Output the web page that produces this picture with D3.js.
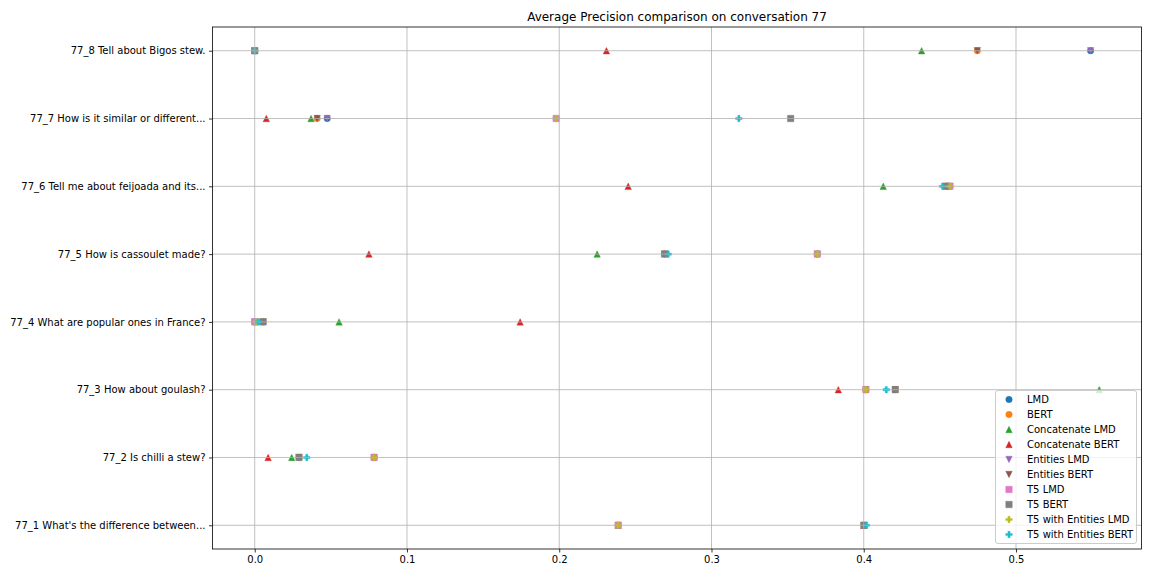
<!DOCTYPE html>
<html><head><meta charset="utf-8">
<script src="https://cdn.jsdelivr.net/npm/d3@7"></script>
<style>body{margin:0;background:#fff} text{font-family:"DejaVu Sans",sans-serif;fill:#000}</style>
</head><body><svg id="c" width="1152" height="576"></svg>
<script>
// Rows, bottom to top
const categories = [
  "77_1 What's the difference between...",
  "77_2 Is chilli a stew?",
  "77_3 How about goulash?",
  "77_4 What are popular ones in France?",
  "77_5 How is cassoulet made?",
  "77_6 Tell me about feijoada and its...",
  "77_7 How is it similar or different...",
  "77_8 Tell about Bigos stew."
];
const seriesNames = ["LMD","BERT","Concatenate LMD","Concatenate BERT","Entities LMD","Entities BERT","T5 LMD","T5 BERT","T5 with Entities LMD","T5 with Entities BERT"];
const lmd        = [0.2387, 0.0784, 0.4014, 0.0,    0.3695, 0.4566, 0.0476, 0.549];
const bert       = [0.4001, 0.0291, 0.4207, 0.0055, 0.2692, 0.454,  0.041,  0.4746];
const concatLmd  = [0.2387, 0.0243, 0.5547, 0.0554, 0.2249, 0.4128, 0.037,  0.438];
const concatBert = [0.4001, 0.0088, 0.3833, 0.1743, 0.0750, 0.2453, 0.0076, 0.231];
const entLmd     = [0.2387, 0.0784, 0.4014, 0.0,    0.3695, 0.4566, 0.0476, 0.549];
const entBert    = [0.4001, 0.0291, 0.4207, 0.0055, 0.2692, 0.454,  0.041,  0.4746];
const t5Lmd      = [0.2387, 0.0784, 0.4014, 0.0,    0.3695, 0.4566, 0.198,  0.0];
const t5Bert     = [0.4001, 0.0291, 0.4207, 0.0055, 0.2692, 0.454,  0.352,  0.0];
const t5EntLmd   = [0.2387, 0.0784, 0.4014, 0.001,  0.3695, 0.4566, 0.198,  0.0];
const t5EntBert  = [0.4018, 0.0342, 0.4148, 0.0025, 0.2716, 0.4518, 0.318,  0.0];
const xTicks = [0.0, 0.1, 0.2, 0.3, 0.4, 0.5];

const seriesValues = [lmd, bert, concatLmd, concatBert, entLmd, entBert, t5Lmd, t5Bert, t5EntLmd, t5EntBert];
const colors = ["#1f77b4","#ff7f0e","#2ca02c","#d62728","#9467bd","#8c564b","#e377c2","#7f7f7f","#bcbd22","#17becf"];

// matplotlib-like marker shapes
const mk = (fn) => ({draw(ctx, size){ fn(ctx, Math.sqrt(size)/2); }});
const circle = mk((c,r)=>{c.moveTo(r,0);c.arc(0,0,r,0,2*Math.PI);});
const triUp = mk((c,r)=>{c.moveTo(0,-r);c.lineTo(-r,r);c.lineTo(r,r);c.closePath();});
const triDown = mk((c,r)=>{c.moveTo(0,r);c.lineTo(-r,-r);c.lineTo(r,-r);c.closePath();});
const square = mk((c,r)=>{c.rect(-r,-r,2*r,2*r);});
const plus = mk((c,r)=>{const a=r/3;const p=[[-a,-r],[a,-r],[a,-a],[r,-a],[r,a],[a,a],[a,r],[-a,r],[-a,a],[-r,a],[-r,-a],[-a,-a]];c.moveTo(p[0][0],p[0][1]);p.slice(1).forEach(q=>c.lineTo(q[0],q[1]));c.closePath();});
const shapes = [circle, circle, triUp, triUp, triDown, triDown, square, square, plus, plus];
const markerArea = 42;

const svg = d3.select("#c");
const L = 212.5, R = 1141.5, T = 27, B = 549;

const allVals = seriesValues.flat();
const [mn, mx] = d3.extent(allVals);
const mg = (mx - mn) * 0.05;
const x = d3.scaleLinear().domain([mn - mg, mx + mg]).range([L, R]);
const n = categories.length;
const y = d3.scaleLinear().domain([-0.35, n - 1 + 0.35]).range([B, T]);

// markers
seriesValues.forEach((vals, si) => {
  const g = svg.append("g");
  g.selectAll("path").data(vals).join("path")
    .attr("transform", (d, i) => `translate(${x(d)},${y(i)})`)
    .attr("d", d3.symbol().type(shapes[si]).size(markerArea))
    .attr("fill", colors[si]).attr("stroke", colors[si]).attr("stroke-width", 0.4);
});

// grid (above scatter, like matplotlib default zorder)
const grid = svg.append("g").attr("stroke", "#b0b0b0").attr("stroke-width", 0.8);
grid.selectAll("line.v").data(xTicks).join("line")
  .attr("x1", d => x(d)).attr("x2", d => x(d)).attr("y1", T).attr("y2", B);
grid.selectAll("line.h").data(categories.map((c,i)=>i)).join("line")
  .attr("y1", d => y(d)).attr("y2", d => y(d)).attr("x1", L).attr("x2", R);

// axes
const xAxis = svg.append("g").attr("transform", `translate(0,${B})`)
  .call(d3.axisBottom(x).tickValues(xTicks).tickFormat(d3.format(".1f")).tickSize(3.5).tickPadding(3.5).tickSizeOuter(0));
const yAxis = svg.append("g").attr("transform", `translate(${L},0)`)
  .call(d3.axisLeft(y).tickValues(categories.map((c,i)=>i)).tickFormat(i => categories[i]).tickSize(3.5).tickPadding(3.5).tickSizeOuter(0));
[xAxis, yAxis].forEach(a => {
  a.select(".domain").remove();
  a.selectAll(".tick line").attr("stroke", "#000").attr("stroke-width", 0.8);
  a.selectAll(".tick text").attr("font-size", 10).attr("font-family", "DejaVu Sans").attr("fill", "#000");
});

// spines
svg.append("rect").attr("x", L).attr("y", T).attr("width", R - L).attr("height", B - T)
  .attr("fill", "none").attr("stroke", "#000").attr("stroke-width", 0.8);

// title
svg.append("text").attr("x", (L + R) / 2).attr("y", T - 6.5).attr("text-anchor", "middle")
  .attr("font-size", 12).text("Average Precision comparison on conversation 77");

// legend (lower right)
const legW = 141, rowH = 15, legH = 10 + rowH * seriesNames.length - 7;
const lx = R - 5 - legW, ly = B - 5.5 - legH;
const leg = svg.append("g").attr("transform", `translate(${lx},${ly})`);
leg.append("rect").attr("width", legW).attr("height", legH).attr("rx", 2.5)
  .attr("fill", "#fff").attr("fill-opacity", 0.8).attr("stroke", "#cccccc").attr("stroke-width", 1);
seriesNames.forEach((name, i) => {
  const cy = 9 + i * rowH;
  leg.append("path").attr("transform", `translate(13.5,${cy})`)
    .attr("d", d3.symbol().type(shapes[i]).size(markerArea))
    .attr("fill", colors[i]).attr("stroke", colors[i]).attr("stroke-width", 0.4);
  leg.append("text").attr("x", 31.5).attr("y", cy).attr("dy", "0.35em").attr("font-size", 10).text(name);
});
</script>
</body></html>
